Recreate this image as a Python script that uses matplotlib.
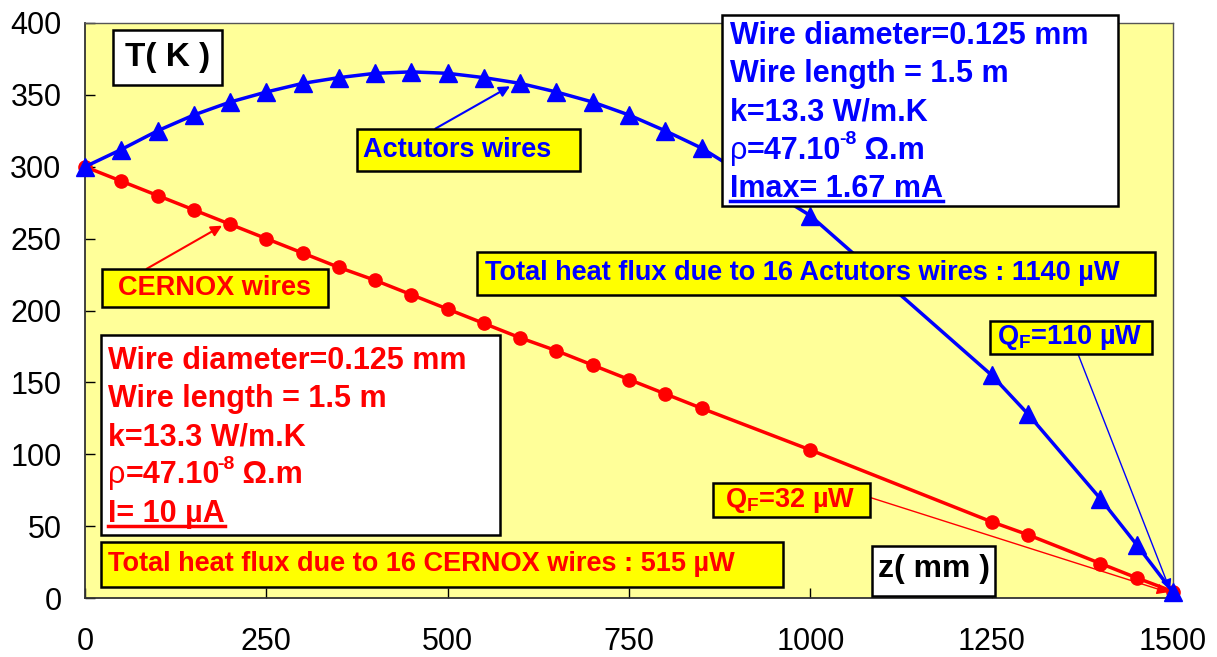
import matplotlib
matplotlib.use('Agg')
import matplotlib.pyplot as plt
from matplotlib.lines import Line2D
from matplotlib.patches import Rectangle

plt.rcParams['font.family'] = ['Liberation Sans', 'DejaVu Sans']
plt.rcParams['mathtext.fontset'] = 'custom'
plt.rcParams['mathtext.rm'] = 'Liberation Sans'
plt.rcParams['mathtext.bf'] = 'Liberation Sans:bold'

# CERNOX wires (red)
z_cernox = [0, 50, 100, 150, 200, 250, 300, 350, 400, 450, 500, 550, 600, 650,
            700, 750, 800, 850, 1000, 1250, 1300, 1400, 1450, 1500]
T_cernox = [300, 290, 280, 270, 260, 250, 240, 230, 221, 211, 201, 191, 181, 172,
            162, 152, 142, 132, 103, 53, 44, 24, 14, 4.5]

# actuator wires (blue)
z_act = [0, 50, 100, 150, 200, 250, 300, 350, 400, 450, 500, 550, 600, 650,
         700, 750, 800, 850, 1000, 1250, 1300, 1400, 1450, 1500]
T_act = [300, 312, 325, 336, 345, 352, 358, 362, 365, 366, 365, 362, 358, 352,
         345, 336, 325, 313, 266, 155, 128, 69, 37, 4]

x_ticks = [0, 250, 500, 750, 1000, 1250, 1500]
y_ticks = [0, 50, 100, 150, 200, 250, 300, 350, 400]

info_act = ["Wire diameter=0.125 mm", "Wire length = 1.5 m", "k=13.3 W/m.K",
            "ρ", "Imax= 1.67 mA"]
info_cernox = ["Wire diameter=0.125 mm", "Wire length = 1.5 m", "k=13.3 W/m.K",
               "ρ", "I= 10 µA"]

fig = plt.figure(figsize=(12.17, 6.57), dpi=100)
ax = fig.add_axes([85/1217, 1-598/657, 1088/1217, 575/657])
ax.set_facecolor('#FFFF99')

ax.plot(z_cernox, T_cernox, color='red', lw=2.5, marker='o', ms=9.5, zorder=3, clip_on=False)
ax.plot(z_act, T_act, color='blue', lw=2.5, marker='^', ms=12.5, zorder=3, clip_on=False)

ax.set_xlim(0, 1500)
ax.set_ylim(0, 400)
ax.set_xticks(x_ticks)
ax.set_yticks(y_ticks)
ax.tick_params(direction='in', length=7, width=1, labelsize=22)
ax.tick_params(axis='x', pad=21)
ax.tick_params(axis='y', pad=17)
for s in ['left', 'bottom']:
    ax.spines[s].set_linewidth(1.3)
    ax.spines[s].set_color('#333333')
for s in ['top', 'right']:
    ax.spines[s].set_color('#555555')
    ax.spines[s].set_linewidth(1)


def box(x0, y0, x1, y1, face):
    ax.add_patch(Rectangle((x0, y0), x1 - x0, y1 - y0, facecolor=face,
                           edgecolor='black', lw=1.8, zorder=5, clip_on=False))


def label(x, y, s, color, size=19.5, ha='center', va='center'):
    return ax.text(x, y, s, color=color, fontsize=size, fontweight='bold',
                   ha=ha, va=va, zorder=6, clip_on=False)


def arrow(start, end, color, lw):
    ax.annotate('', xy=end, xytext=start, zorder=4,
                arrowprops=dict(arrowstyle='-|>', color=color, lw=lw,
                                mutation_scale=16, shrinkA=0, shrinkB=0))


def rho_line(t, color):
    # "ρ=47.10" then superscript "-8" then " Ω.m"
    t.set_fontweight('normal')
    a = ax.annotate("=47.10", xy=(1, 0), xycoords=t, ha='left', va='bottom',
                    color=color, fontsize=22, fontweight='bold', zorder=6, annotation_clip=False)
    b = ax.annotate("-8", xy=(1, 1), xycoords=a, xytext=(-2, 3), textcoords='offset points',
                    ha='left', va='top', color=color, fontsize=14, fontweight='bold',
                    zorder=6, annotation_clip=False)
    ax.annotate(" Ω.m", xy=(1, 0), xycoords=(b, a), ha='left', va='bottom',
                color=color, fontsize=22, fontweight='bold', zorder=6, annotation_clip=False)


# axis title boxes
box(38.6, 357, 189, 395, 'white')
label(114, 376, "T( K )", 'black', size=24)
box(1085, 1.4, 1255, 36, 'white')
label(1170, 20, "z( mm )", 'black', size=23)

# actuator info box
box(878, 272.4, 1424, 405.5, 'white')
act_texts = []
for i, s in enumerate(info_act):
    act_texts.append(label(889, 385.5 - i * 26.6, s, 'blue', size=22, ha='left', va='baseline'))
rho_line(act_texts[3], 'blue')

# cernox info box
box(22, 43.7, 572, 183, 'white')
cer_texts = []
for i, s in enumerate(info_cernox):
    cer_texts.append(label(31.7, 159.5 - i * 26.6, s, 'red', size=22, ha='left', va='baseline'))
rho_line(cer_texts[3], 'red')

# yellow labels
box(375, 296.7, 682, 326.5, 'yellow')
label(513, 311.5, "Actutors wires", 'blue')
arrow((483, 326.5), (586, 356), 'blue', 1.5)

box(23.4, 202.4, 335, 228.8, 'yellow')
label(179, 215.6, "CERNOX wires", 'red')
arrow((85, 229), (189, 259), 'red', 1.5)

box(540, 211, 1475, 241, 'yellow')
label(551, 226, "Total heat flux due to 16 Actutors wires : 1140 µW", 'blue', ha='left')

box(22, 7.6, 962, 38.8, 'yellow')
label(31.7, 23.5, "Total heat flux due to 16 CERNOX wires : 515 µW", 'red', ha='left')

box(1248, 169.8, 1471, 192.7, 'yellow')
label(1358, 181.5, r"Q$_{\mathbf{F}}$=110 µW", 'blue')
arrow((1369, 169.8), (1496, 5.5), 'blue', 1)

box(866, 56.2, 1082, 79.7, 'yellow')
label(972, 68, r"Q$_{\mathbf{F}}$=32 µW", 'red')
arrow((1082, 70), (1493, 4), 'red', 1)

# underline the current lines
fig.canvas.draw()
r = fig.canvas.get_renderer()
inv = fig.transFigure.inverted()
for t, c in [(act_texts[-1], 'blue'), (cer_texts[-1], 'red')]:
    bb = t.get_window_extent(r)
    base = ax.transData.transform(t.get_position())[1] - 4
    p0 = inv.transform((bb.x0, base))
    p1 = inv.transform((bb.x1, base))
    fig.add_artist(Line2D([p0[0], p1[0]], [p0[1], p1[1]], color=c, lw=2.5, zorder=7))

fig.savefig('out.png', dpi=100, facecolor='white')
